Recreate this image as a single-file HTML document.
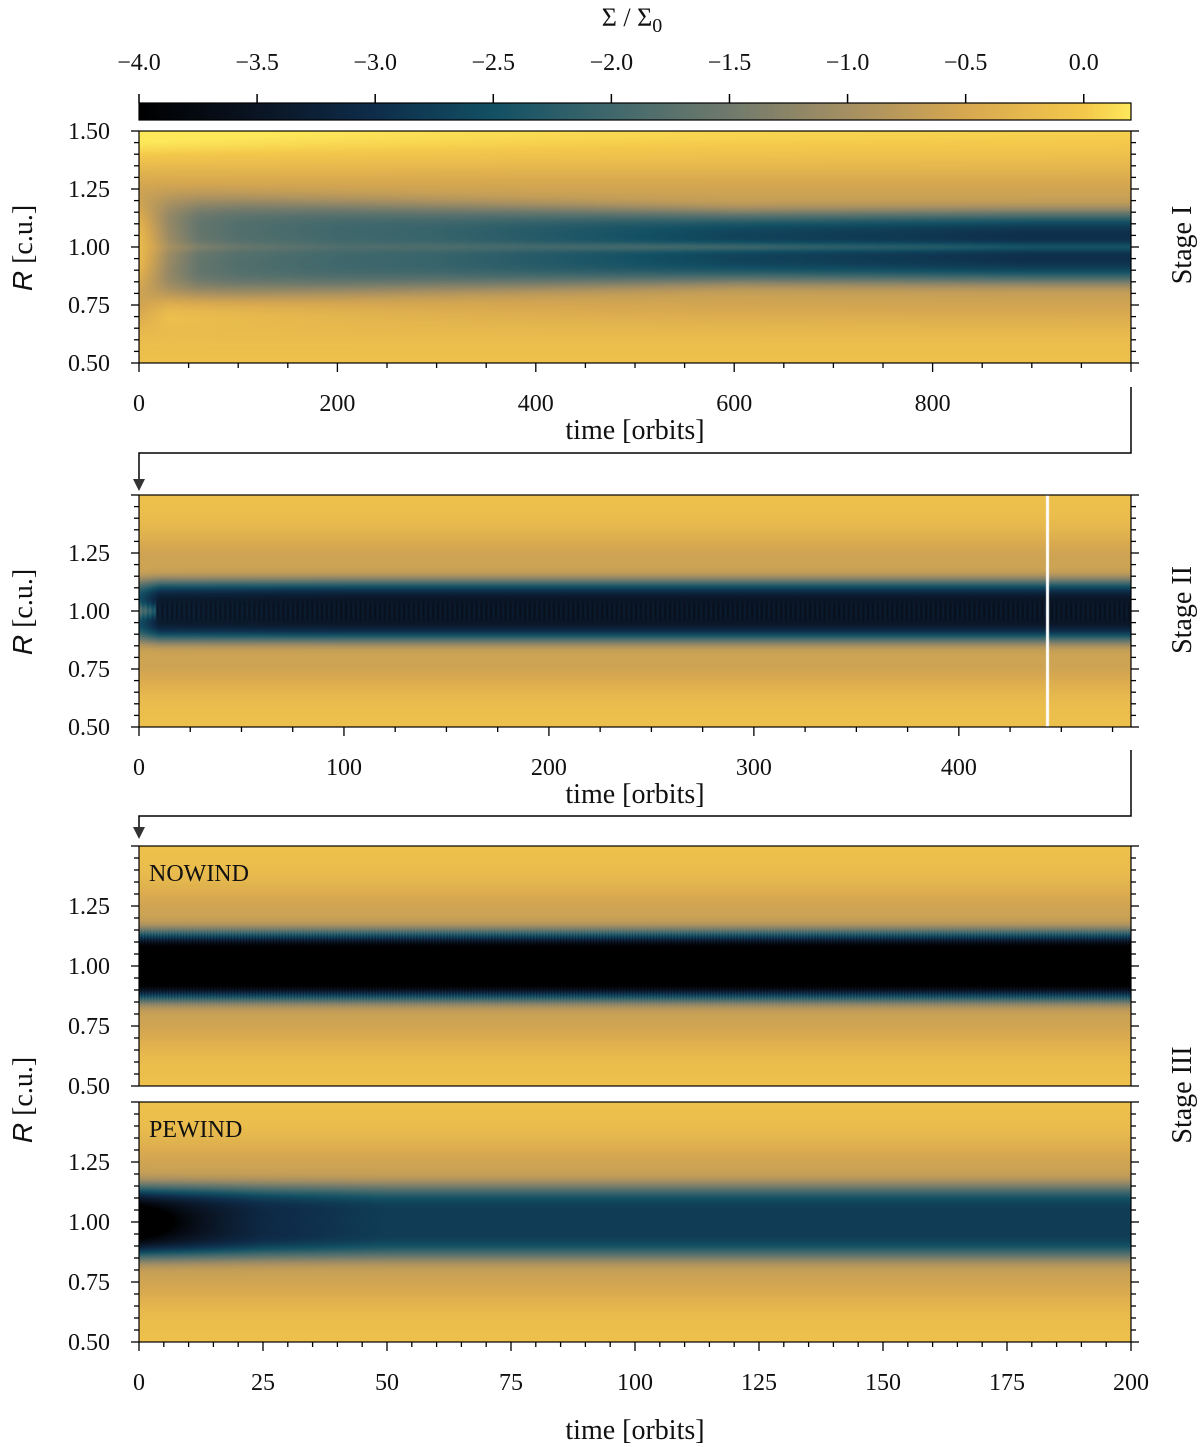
<!DOCTYPE html>
<html><head><meta charset="utf-8"><style>
html,body{margin:0;padding:0;background:#fff;}
#wrap{position:relative;width:1200px;height:1447px;overflow:hidden;}
canvas{position:absolute;}
svg{position:absolute;left:0;top:0;}
text{font-family:"Liberation Serif",serif;fill:#111;}
</style></head><body>
<div id="wrap">
<canvas id="cb" style="left:139px;top:103px" width="992" height="17"></canvas>
<canvas id="p1" style="left:139px;top:131px" width="992" height="232"></canvas>
<canvas id="p2" style="left:139px;top:495px" width="992" height="232"></canvas>
<canvas id="p3" style="left:139px;top:846px" width="992" height="240"></canvas>
<canvas id="p4" style="left:139px;top:1102px" width="992" height="240"></canvas>
<svg id="ov" width="1200" height="1447"></svg>
</div>
<script>
// colormap stops
const cmapVals = [-4.0,-3.5,-3.0,-2.5,-2.0,-1.5,-1.0,-0.5,0.0,0.2];
const cmapCols = [[0,0,0],[10,20,35],[14,45,75],[18,80,100],[64,104,108],[112,122,108],[165,143,98],[215,168,80],[244,200,75],[253,232,90]];
// Stage I: time samples and gap depths
const t1 = [0,10,30,60,100,200,300,400,500,600,700,800,900,1000];
const d1 = [0.0,-0.3,-0.9,-1.4,-1.6,-1.8,-1.9,-2.1,-2.3,-2.5,-2.6,-2.7,-2.8,-2.8];
const r1 = [0.0,0.2,0.3,0.4,0.3,0.2,0.3,0.4,0.6,0.7,0.6,0.6,0.5,0.5];
// Stage II
const t2 = [0,5,10,100,200,300,400,485];
const d2 = [-2.4,-2.8,-3.2,-3.3,-3.3,-3.3,-3.3,-3.3];
// Stage III
const t3 = [0,25,50,100,150,200];
const d3now = [-4.2,-4.2,-4.2,-4.2,-4.2,-4.2];
const d3pe = [-3.6,-2.9,-2.6,-2.6,-2.6,-2.6];
const cbTicks = [-4.0,-3.5,-3.0,-2.5,-2.0,-1.5,-1.0,-0.5,0.0];

function cmap(v){
  if(v<=cmapVals[0]) return cmapCols[0];
  for(let i=1;i<cmapVals.length;i++){ if(v<=cmapVals[i]){const f=(v-cmapVals[i-1])/(cmapVals[i]-cmapVals[i-1]);const a=cmapCols[i-1],b=cmapCols[i];return [a[0]+(b[0]-a[0])*f,a[1]+(b[1]-a[1])*f,a[2]+(b[2]-a[2])*f];}}
  return cmapCols[cmapCols.length-1];
}
function lerpArr(ts,vs,t){ if(t<=ts[0])return vs[0]; for(let i=1;i<ts.length;i++){ if(t<=ts[i]){const f=(t-ts[i-1])/(ts[i]-ts[i-1]);return vs[i-1]+(vs[i]-vs[i-1])*f;}} return vs[vs.length-1];}
function bg(R){const d=Math.abs(R-1);return -0.15-0.45*Math.exp(-Math.pow((d-0.22)/0.12,2))+0.2*Math.max(0,d-0.35);}
function gap(R,w){return Math.exp(-Math.pow(Math.abs(R-1)/w,4));}
function draw(id,tmax,rmin,rmax,fn){
  const c=document.getElementById(id),ctx=c.getContext('2d'),W=c.width,H=c.height;
  const img=ctx.createImageData(W,H);
  for(let x=0;x<W;x++){const t=x/(W-1)*tmax;
    for(let y=0;y<H;y++){const R=rmax-(y/(H-1))*(rmax-rmin);const col=cmap(fn(t,R,x));const k=(y*W+x)*4;img.data[k]=col[0];img.data[k+1]=col[1];img.data[k+2]=col[2];img.data[k+3]=255;}}
  ctx.putImageData(img,0,0);
}
// colorbar
draw('cb',1,0,1,(t)=>-4+t*4.2);
draw('p1',1000,0.5,1.5,(t,R)=>{const D=lerpArr(t1,d1,t),rg=lerpArr(t1,r1,t);
  const w=0.2-0.05*Math.min(1,t/600);
  let v=bg(R)+D*gap(R,w)+rg*D*-0.35*Math.exp(-Math.pow((R-1)/0.02,2));
  v+=0.35*Math.exp(-t/250)*Math.exp(-Math.pow((R-0.72)/0.07,2))*Math.min(1,t/30);
  v+=(0.15+0.25*Math.exp(-t/400))*Math.exp(-Math.pow((R-1.5)/0.12,2));
  return v;});
draw('p2',485,0.5,1.5,(t,R,x)=>{const D=lerpArr(t2,d2,t);let v=bg(R)+D*gap(R,0.13)+0.3*gap(R,0.04)*Math.sin(x*1.3)*0.5; if(t<8)v+=0.8*Math.exp(-Math.pow((R-1)/0.03,2)); return v;});
draw('p3',200,0.5,1.5,(t,R,x)=>{const D=lerpArr(t3,d3now,t);return bg(R)+D*gap(R,0.14)+0.3*Math.sin(x*2.1)*Math.exp(-Math.pow((Math.abs(R-1)-0.12)/0.03,2));});
draw('p4',200,0.5,1.5,(t,R)=>{const D=lerpArr(t3,d3pe,t);return bg(R)+D*gap(R,0.15)-1.3*Math.exp(-t/6)*Math.exp(-Math.pow((R-1)/0.06,2));});
(function(){const c=document.getElementById('p2').getContext('2d');c.fillStyle='#fff';c.fillRect(1047-139-1,0,3,232);})();

const ov=document.getElementById('ov');const NS='http://www.w3.org/2000/svg';
function el(tag,attrs,txt){const e=document.createElementNS(NS,tag);for(const k in attrs)e.setAttribute(k,attrs[k]);if(txt!==undefined)e.textContent=txt;ov.appendChild(e);return e;}
const X0=139,X1=1131;
function label(x,y,s,size,anchor,name){const e=el('text',{x:x,y:y,'font-size':size,'text-anchor':anchor||'middle'},s);

return e;}
el('rect',{x:X0,y:103,width:992,height:17,fill:'none',stroke:'#000','stroke-width':1.2});
cbTicks.forEach(v=>{const x=X0+(v+4)/4.2*992;el('line',{x1:x,x2:x,y1:94,y2:103,stroke:'#000','stroke-width':1.5});
label(x,70,(v<0?'\u2212':'')+Math.abs(v).toFixed(1),24,'middle','colorbar-tick-label');});
const tt=label(632,26,'',26,'middle','colorbar-title');tt.setAttribute('font-family','DejaVu Sans, sans-serif');tt.innerHTML='\u03A3 / \u03A3<tspan dy="6" font-size="20">0</tspan>';

function panel(top,h,rmin,rmax,yLabels,name){
  el('rect',{x:X0,y:top,width:992,height:h,fill:'none',stroke:'#000','stroke-width':1.2});
  const sy=r=>top+h-(r-rmin)/(rmax-rmin)*h;
  for(let i=0;i<=20;i++){const r=rmin+i*0.05;if(r>rmax+1e-6)break;const y=sy(r);const maj=i%5==0;const L=maj?8:5;
    el('line',{x1:X0-L,x2:X0,y1:y,y2:y,stroke:'#000','stroke-width':1.3});el('line',{x1:X1,x2:X1+L,y1:y,y2:y,stroke:'#000','stroke-width':1.3});}
  yLabels.forEach(r=>label(X0-29,sy(r)+8,r.toFixed(2),24,'end',name+'-y-tick-label'));
}
function xaxis(y,tmax,major,minor,labels,name,scale){
  for(let v=0;v<=tmax+1e-6;v+=minor){const x=X0+v/scale*992;const maj=Math.abs(v/major-Math.round(v/major))<1e-6;
    el('line',{x1:x,x2:x,y1:y,y2:y+(maj?9:5),stroke:'#000','stroke-width':1.3});}
  labels.forEach(v=>{const x=X0+v/scale*992;label(x,y+48,String(v),24,'middle',name+'-x-tick-label');});
}
panel(131,232,0.5,1.5,[0.5,0.75,1.0,1.25,1.5],'stage-i');
xaxis(363,1000,200,50,[0,200,400,600,800],'stage-i',1000);
label(635,439,'time [orbits]',28,'middle','stage-i-x-axis-title');
panel(495,232,0.5,1.5,[0.5,0.75,1.0,1.25],'stage-ii');
xaxis(727,480,100,25,[0,100,200,300,400],'stage-ii',484);
label(635,803,'time [orbits]',28,'middle','stage-ii-x-axis-title');
panel(846,240,0.5,1.5,[0.5,0.75,1.0,1.25],'nowind');
panel(1102,240,0.5,1.5,[0.5,0.75,1.0,1.25],'pewind');
xaxis(1342,200,25,5,[0,25,50,75,100,125,150,175,200],'stage-iii',200);
label(635,1439,'time [orbits]',28,'middle','stage-iii-x-axis-title');
el('polyline',{points:'1131,387 1131,453 139,453 139,482',fill:'none',stroke:'#000','stroke-width':1.5});
el('polygon',{points:'133,479 145,479 139,491',fill:'#333'});
el('polyline',{points:'1131,750 1131,816 139,816 139,829',fill:'none',stroke:'#000','stroke-width':1.5});
el('polygon',{points:'133,827 145,827 139,839',fill:'#333'});
label(149,881,'NOWIND',24,'start','nowind-label');
label(149,1137,'PEWIND',24,'start','pewind-label');
function ytitle(x,y,name){const e=el('text',{x:0,y:0,'font-size':28,'text-anchor':'middle',transform:`translate(${x},${y}) rotate(-90)`});e.innerHTML='<tspan font-style="italic" font-family="Liberation Sans, sans-serif">R</tspan> [c.u.]';

}
ytitle(32,248,'stage-i-y-axis-title');ytitle(32,612,'stage-ii-y-axis-title');ytitle(32,1100,'stage-iii-y-axis-title');
function stitle(x,y,s,name){const e=el('text',{x:0,y:0,'font-size':28,'text-anchor':'middle',transform:`translate(${x},${y}) rotate(-90)`},s);

}
stitle(1191,245,'Stage I','stage-i-title');stitle(1191,610,'Stage II','stage-ii-title');stitle(1191,1095,'Stage III','stage-iii-title');
</script>
</body></html>
